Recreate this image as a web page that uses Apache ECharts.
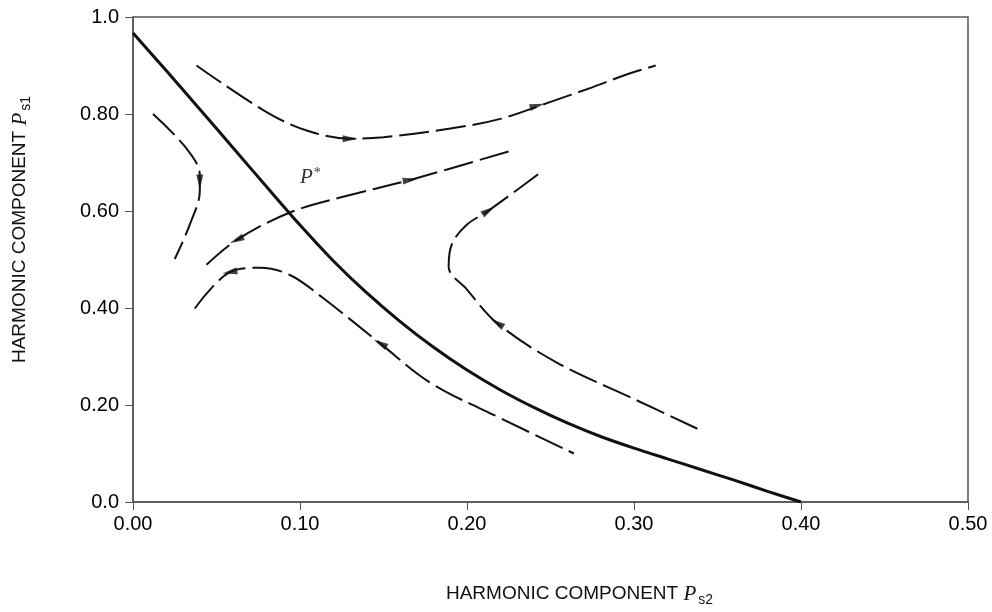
<!DOCTYPE html>
<html>
<head>
<meta charset="utf-8">
<script src="https://cdn.jsdelivr.net/npm/echarts@6/dist/echarts.min.js"></script>
<style>
    html, body { margin: 0; padding: 0; background: #fff; }
    #chart { width: 992px; height: 612px; }
</style>
</head>
<body>
<div id="chart"></div>
<script>
    // tick labels
    const xTickLabels = ['0.00', '0.10', '0.20', '0.30', '0.40', '0.50'];
    const yTickLabels = ['0.0', '0.20', '0.40', '0.60', '0.80', '1.0'];

    // separatrix (solid heavy curve), read every 0.02 along x
    const separatrix = [
        [0, 0.967], [0.02, 0.889], [0.04, 0.810], [0.06, 0.730], [0.08, 0.650],
        [0.10, 0.571], [0.12, 0.497], [0.14, 0.431], [0.16, 0.372], [0.18, 0.319],
        [0.20, 0.272], [0.22, 0.231], [0.24, 0.195], [0.26, 0.163], [0.28, 0.135],
        [0.30, 0.111], [0.32, 0.089], [0.34, 0.067], [0.36, 0.045], [0.38, 0.022], [0.40, 0]
    ];

    // dashed trajectories
    const trajTop = [
        [0.038, 0.900], [0.080, 0.804], [0.104, 0.766], [0.130, 0.749], [0.150, 0.752],
        [0.190, 0.770], [0.220, 0.790], [0.250, 0.825], [0.275, 0.855], [0.296, 0.882], [0.313, 0.900]
    ];
    const trajLeft = [
        [0.012, 0.800], [0.032, 0.729], [0.040, 0.674], [0.040, 0.642], [0.034, 0.572], [0.025, 0.501]
    ];
    const trajMiddle = [
        [0.044, 0.489], [0.062, 0.540], [0.094, 0.597], [0.130, 0.633], [0.166, 0.664], [0.225, 0.723]
    ];
    const trajLower = [
        [0.037, 0.399], [0.058, 0.474], [0.076, 0.483], [0.094, 0.468], [0.114, 0.420],
        [0.148, 0.327], [0.178, 0.246], [0.220, 0.173], [0.264, 0.100]
    ];
    const trajRight = [
        [0.338, 0.151], [0.299, 0.214], [0.254, 0.287], [0.218, 0.369], [0.200, 0.438],
        [0.189, 0.485], [0.191, 0.532], [0.200, 0.572], [0.213, 0.601], [0.245, 0.682]
    ];

    // arrow heads: [x, y, dx, dy] (direction in data units)
    const arrows = [
        [0.130, 0.749, 1, 0], [0.242, 0.817, 1, 0.9],
        [0.040, 0.660, 0, -1],
        [0.062, 0.540, -1, -1.6], [0.166, 0.664, 1, 0.55],
        [0.058, 0.474, -1, -0.6], [0.148, 0.327, -1, 1.9],
        [0.218, 0.369, -1, 2.2], [0.213, 0.601, 1, 2.2]
    ];

    const labelPStar = [[0.100, 0.670]];

    const chart = echarts.init(document.getElementById('chart'));
    const font = 'Liberation Sans, Arial, sans-serif';

    function dashed(data) {
        return {
            type: 'line',
            data: data,
            smooth: 0.35,
            symbol: 'none',
            silent: true,
            lineStyle: { color: '#111', width: 2, type: [30, 7] },
            z: 3
        };
    }

    const nameRich = {
        a: { fontFamily: font, fontSize: 19, color: '#111' },
        p: { fontFamily: 'Liberation Serif, serif', fontStyle: 'italic', fontSize: 21, color: '#111' },
        s: { fontFamily: font, fontSize: 14, color: '#111', padding: [12, 0, 0, 2] }
    };

    const option = {
        animation: false,
        backgroundColor: '#fff',
        grid: {
            left: 133,
            right: 24,
            top: 17,
            bottom: 104,
            show: true,
            borderColor: '#555',
            borderWidth: 1.5
        },
        xAxis: {
            type: 'value',
            min: 0,
            max: 0.5,
            interval: 0.1,
            name: '{a|HARMONIC COMPONENT }{p|P}{s|s2}',
            nameLocation: 'middle',
            nameGap: 79,
            nameTextStyle: {
                padding: [0, 0, 0, 58],
                rich: nameRich
            },
            axisLine: { lineStyle: { color: '#555', width: 1.5 } },
            axisTick: { length: 8, lineStyle: { color: '#555' } },
            axisLabel: {
                margin: 12,
                fontFamily: font,
                fontSize: 20,
                color: '#000',
                formatter: function (v) { return xTickLabels[Math.round(v / 0.1)]; }
            },
            splitLine: { show: false }
        },
        yAxis: {
            type: 'value',
            min: 0,
            max: 1,
            interval: 0.2,
            name: '{a|HARMONIC COMPONENT }{p|P}{s|s1}',
            nameLocation: 'middle',
            nameGap: 100,
            nameRotate: 90,
            nameTextStyle: {
                padding: [0, 0, 0, 60],
                rich: nameRich
            },
            axisLine: { lineStyle: { color: '#555', width: 1.5 } },
            axisTick: { length: 8, lineStyle: { color: '#555' } },
            axisLabel: {
                margin: 14,
                fontFamily: font,
                fontSize: 20,
                color: '#000',
                formatter: function (v) { return yTickLabels[Math.round(v / 0.2)]; }
            },
            splitLine: { show: false }
        },
        series: [
            {
                type: 'line',
                data: separatrix,
                smooth: 0.3,
                symbol: 'none',
                silent: true,
                lineStyle: { color: '#111', width: 3 },
                z: 4
            },
            dashed(trajTop),
            dashed(trajLeft),
            dashed(trajMiddle),
            dashed(trajLower),
            dashed(trajRight),
            {
                id: 'arrows',
                type: 'scatter',
                symbol: 'triangle',
                symbolSize: [7, 15],
                itemStyle: { color: '#111' },
                silent: true,
                data: [],
                z: 5
            },
            {
                type: 'scatter',
                symbolSize: 0,
                silent: true,
                data: labelPStar,
                label: {
                    show: true,
                    position: 'right',
                    distance: 0,
                    formatter: '{p|P}{s|*}',
                    rich: {
                        p: { fontFamily: 'Liberation Serif, serif', fontStyle: 'italic', fontSize: 21, color: '#000' },
                        s: { fontFamily: 'Liberation Serif, serif', fontSize: 14, color: '#000', padding: [0, 0, 8, 1] }
                    }
                }
            }
        ]
    };
    chart.setOption(option);

    // orient arrow heads along their direction in pixel space
    const arrowData = arrows.map(function (a) {
        const p0 = chart.convertToPixel({ gridIndex: 0 }, [a[0], a[1]]);
        const p1 = chart.convertToPixel({ gridIndex: 0 }, [a[0] + a[2] * 0.01, a[1] + a[3] * 0.01]);
        const ang = Math.atan2(-(p1[1] - p0[1]), p1[0] - p0[0]) * 180 / Math.PI;
        return { value: [a[0], a[1]], symbolRotate: ang - 90 };
    });
    chart.setOption({ series: [{ id: 'arrows', data: arrowData }] });
</script>
</body>
</html>
